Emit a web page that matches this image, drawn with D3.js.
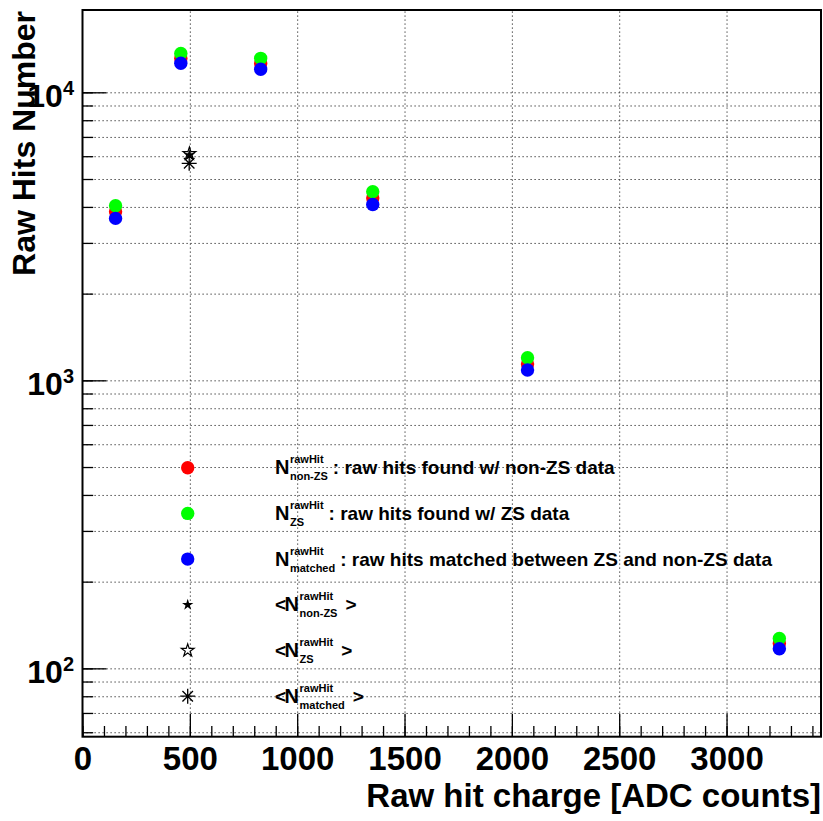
<!DOCTYPE html>
<html>
<head>
<meta charset="utf-8">
<script src="https://cdnjs.cloudflare.com/ajax/libs/d3/7.8.5/d3.min.js"></script>
<style>
  body { margin: 0; background: #fff; }
  text { font-family: "Liberation Sans", Arial, Helvetica, sans-serif; font-weight: bold; fill: #000; }
  .grid line { stroke: #222; stroke-width: 1; stroke-dasharray: 1.2,2.8; }
  .ticks line { stroke: #000; stroke-width: 1.3; }
</style>
</head>
<body>
<div id="chart"></div>
<script>

// data
var charge      = [154, 458, 830, 1352, 2073, 3246];
var hitsNonZS   = [3850, 13100, 12600, 4300, 1140, 122];
var hitsZS      = [4040, 13650, 13120, 4520, 1198, 127];
var hitsMatched = [3650, 12610, 12020, 4080, 1086, 117];

// mean values (non-ZS, ZS, matched)
var meanCharge = [498, 498, 497];
var meanHits   = [6050, 6120, 5670];

var xTicks = [0, 500, 1000, 1500, 2000, 2500, 3000];
var yTicks = [100, 1000, 10000];

var legendSub  = ["non-ZS", "ZS", "matched", "non-ZS", "ZS", "matched"];
var legendTail = [": raw hits found w/ non-ZS data", ": raw hits found w/ ZS data",
                  ": raw hits matched between ZS and non-ZS data", ">", ">", ">"];

var W = 823, H = 821;
var margin = { top: 10, right: 2, bottom: 84.3, left: 82.5 },
  width = W - margin.left - margin.right,
  height = H - margin.top - margin.bottom;

var x = d3.scaleLinear().domain([0, 3440]).range([0, width]);
var y = d3.scaleLog().domain([57.9, 19310]).range([height, 0]);

var svg = d3.select("#chart")
  .append("svg")
  .attr("width", W)
  .attr("height", H)
  .append("g")
  .attr("transform", "translate(" + margin.left + "," + margin.top + ")");

// grid
svg.append("g")
  .attr("class", "grid")
  .call(d3.axisLeft(y).tickValues(y.ticks()).tickSize(-width).tickFormat(""))
  .call(function(g) { g.select(".domain").remove(); });

svg.append("g")
  .attr("class", "grid")
  .attr("transform", "translate(0," + height + ")")
  .call(d3.axisBottom(x).tickValues(xTicks.slice(1)).tickSize(-height).tickFormat(""))
  .call(function(g) { g.select(".domain").remove(); });

// minor + major ticks, pointing inwards
svg.append("g")
  .attr("class", "ticks")
  .call(d3.axisLeft(y).tickValues(y.ticks()).tickSize(-10.7).tickFormat(""))
  .call(function(g) { g.select(".domain").remove(); });

var yAxis = svg.append("g")
  .attr("class", "ticks")
  .call(d3.axisLeft(y).tickValues(yTicks).tickSize(-24).tickPadding(8.5).tickFormat(""))
  .call(function(g) { g.select(".domain").remove(); });

yAxis.selectAll(".tick text")
  .attr("dy", null)
  .attr("y", 14.5)
  .attr("text-anchor", "end")
  .each(function(d) {
    var t = d3.select(this);
    t.append("tspan").style("font-size", "32px").text("10");
    t.append("tspan").style("font-size", "20px").attr("dy", -12)
      .text(Math.round(Math.log10(d)));
  });

svg.append("g")
  .attr("class", "ticks")
  .attr("transform", "translate(0," + height + ")")
  .call(d3.axisBottom(x).tickValues(d3.range(0, 3441, 100)).tickSize(-10.7).tickFormat(""))
  .call(function(g) { g.select(".domain").remove(); });

svg.append("g")
  .attr("class", "ticks")
  .attr("transform", "translate(0," + height + ")")
  .call(d3.axisBottom(x).tickValues(xTicks).tickSize(-23).tickFormat(d3.format("d")))
  .call(function(g) { g.select(".domain").remove(); })
  .selectAll("text")
  .attr("dy", null)
  .attr("y", 33.3)
  .style("font-size", "33px");

// frame
svg.append("rect")
  .attr("width", width)
  .attr("height", height)
  .attr("fill", "none")
  .attr("stroke", "#000")
  .attr("stroke-width", 2);

// axis titles
svg.append("text")
  .attr("transform", "rotate(-90)")
  .attr("x", -1)
  .attr("y", 35 - margin.left)
  .attr("text-anchor", "end")
  .style("font-size", "32px")
  .text("Raw Hits Number");

svg.append("text")
  .attr("x", width)
  .attr("y", 807 - margin.top)
  .attr("text-anchor", "end")
  .style("font-size", "33px")
  .text("Raw hit charge [ADC counts]");

// markers
function drawMarker(g, type, color, cx, cy) {
  if (type == "circle") {
    g.append("circle").attr("cx", cx).attr("cy", cy).attr("r", 6.7).attr("fill", color);
  } else if (type == "star") {
    g.append("path").attr("d", d3.symbol(d3.symbolStar, 40)())
      .attr("transform", "translate(" + cx + "," + cy + ")")
      .attr("fill", color);
  } else if (type == "openstar") {
    g.append("path").attr("d", d3.symbol(d3.symbolStar, 50)())
      .attr("transform", "translate(" + cx + "," + cy + ")")
      .attr("fill", "none").attr("stroke", color).attr("stroke-width", 1.2);
  } else {
    var s = 7.5, c = s * 0.7;
    g.append("path")
      .attr("d", "M" + (-s) + ",0L" + s + ",0M0," + (-s) + "L0," + s +
        "M" + (-c) + "," + (-c) + "L" + c + "," + c + "M" + (-c) + "," + c + "L" + c + "," + (-c))
      .attr("transform", "translate(" + cx + "," + cy + ")")
      .attr("fill", "none").attr("stroke", color).attr("stroke-width", 1.3);
  }
}

var series = [
  { values: hitsNonZS, color: "#ff0000" },
  { values: hitsZS, color: "#00ff00" },
  { values: hitsMatched, color: "#0000ff" }
];

var points = svg.append("g");
series.forEach(function(s) {
  s.values.forEach(function(v, i) {
    drawMarker(points, "circle", s.color, x(charge[i]), y(v));
  });
});

var meanTypes = ["star", "openstar", "asterisk"];
drawMarker(points, meanTypes[1], "#000", x(meanCharge[1]), y(meanHits[1]));
drawMarker(points, meanTypes[0], "#000", x(meanCharge[0]), y(meanHits[0]));
drawMarker(points, meanTypes[2], "#000", x(meanCharge[2]), y(meanHits[2]));

// legend
var legendTypes = ["star", "openstar", "asterisk"];
var legendColors = ["#ff0000", "#00ff00", "#0000ff"];
var legend = d3.select("svg").append("g");

legendSub.forEach(function(sub, i) {
  var cy = 467.7 + i * 45.7;
  var base = cy + 6.6;
  if (i < 3) {
    drawMarker(legend, "circle", legendColors[i], 187.7, cy);
  } else {
    drawMarker(legend, legendTypes[i - 3], "#000", 187.7, cy);
  }

  var xCur = 275;
  if (i >= 3) {
    var lt = legend.append("text").attr("x", xCur).attr("y", base).style("font-size", "19px").text("<");
    xCur += lt.node().getComputedTextLength() - 1.5;
  }
  var n = legend.append("text").attr("x", xCur).attr("y", base).style("font-size", "20px").text("N");
  xCur += n.node().getComputedTextLength() + 0.5;
  var sp = legend.append("text").attr("x", xCur).attr("y", base - 11).style("font-size", "11px").text("rawHit");
  var sb = legend.append("text").attr("x", xCur).attr("y", base + 6).style("font-size", "11px").text(sub);
  xCur += Math.max(sp.node().getComputedTextLength(), sb.node().getComputedTextLength());
  xCur += (i >= 3) ? 8 : 5;
  legend.append("text").attr("x", xCur).attr("y", base).style("font-size", "19px").text(legendTail[i]);
});

</script>
</body>
</html>
